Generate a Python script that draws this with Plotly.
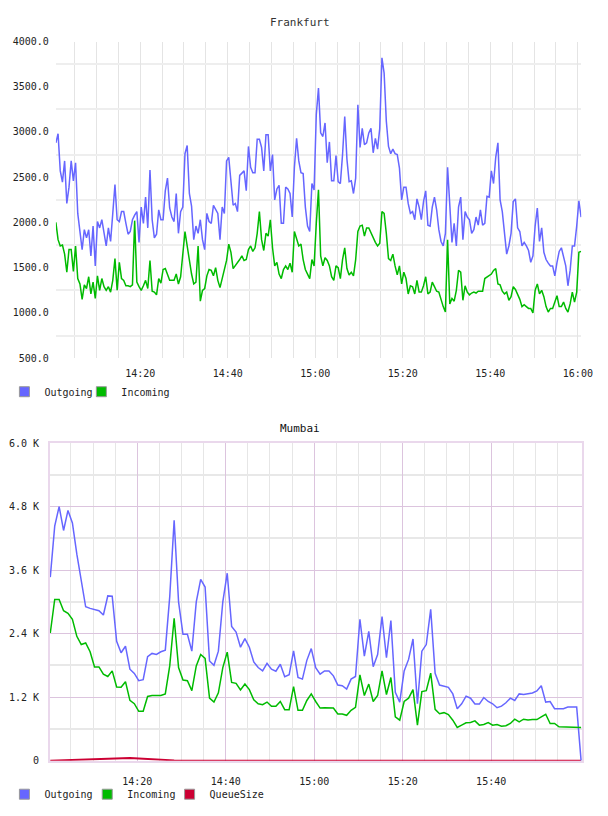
import pandas as pd
import plotly.graph_objects as go

# ---------------- data ----------------
FRA_START = "2024-01-01 14:00:44"   # first Frankfurt sample, 30 s interval
MUM_START = "2024-01-01 14:00:20"   # first Mumbai sample, 1 min interval

fra_outgoing = [
    2880, 2980, 2570, 2445, 2680, 2210, 2390, 2680, 2460, 2660, 2100,
    1920, 1700, 1920, 1830, 1920, 1630, 1960, 1520, 2010, 1940,
    2030, 1880, 1740, 1940, 1790, 2100, 2420, 2030, 2010, 2120,
    2120, 1990, 1870, 1900, 2030, 2080, 2120, 1780, 2170, 1990,
    2280, 1940, 2580, 2030, 1830, 1870, 2140, 2030, 2030, 2350,
    2490, 2160, 2060, 2010, 2320, 1880, 2120, 2170, 2760, 2850,
    2320, 2180, 1810, 1960, 1880, 2030, 1810, 1700, 2100, 2010,
    1990, 2190, 2140, 2100, 1810, 2170, 2100, 2680, 2720, 2420,
    2190, 2210, 2120, 2520, 2550, 2570, 2350, 2840, 2610, 2550,
    2550, 2920, 2920, 2830, 2570, 2970, 2970, 2570, 2750, 2250,
    2370, 2410, 1990, 1990, 2390, 2370, 2320, 2060, 2610, 2930,
    2680, 2550, 2540, 2170, 1960, 1900, 2430, 2360, 3190, 3485,
    2990, 2950, 3100, 2660, 2890, 2460, 2460, 2740, 2450, 2430,
    2750, 3170, 2700, 2450, 2460, 2320, 2490, 3300, 2830, 3040,
    2860, 2880, 2990, 3040, 2770, 2930, 2810, 3040, 3820, 3650,
    3120, 2840, 2760, 2810, 2760, 2750, 2600, 2250, 2390, 2390,
    2210, 2100, 2120, 2030, 2260, 2170, 2030, 2230, 2350, 1970,
    1960, 2170, 2280, 2140, 1920, 1790, 1740, 1880, 2610, 2170,
    1780, 1990, 1740, 2170, 2280, 1810, 2120, 2060, 2030, 1880,
    1920, 2060, 1970, 2140, 1970, 1990, 2290, 2280, 2570, 2430,
    2720, 2880, 2250, 2120, 1880, 1650, 1740, 1880, 2230, 2260,
    1940, 1900, 1740, 1780, 1740, 1690, 1560, 1630, 1960, 2160,
    1790, 1940, 1670, 1590, 1550, 1520, 1520, 1410, 1560, 1680,
    1720, 1630, 1520, 1300, 1470, 1740, 1740, 1960, 2240, 2060,
]

fra_incoming = [
    2000, 1810, 1740, 1750, 1650, 1450, 1700, 1700, 1460, 1740, 1380,
    1320, 1150, 1310, 1270, 1400, 1210, 1340, 1160, 1410, 1250,
    1380, 1290, 1250, 1290, 1230, 1360, 1600, 1250, 1560, 1380,
    1360, 1300, 1300, 1290, 1310, 2020, 1340, 1290, 1250, 1300,
    1360, 1270, 1580, 1240, 1230, 1200, 1380, 1330, 1480, 1490,
    1430, 1360, 1360, 1360, 1430, 1320, 1400, 1670, 1900, 1740,
    1560, 1430, 1320, 1340, 1740, 1130, 1250, 1270, 1410, 1480,
    1470, 1410, 1500, 1360, 1280, 1380, 1470, 1580, 1760, 1670,
    1490, 1520, 1560, 1590, 1630, 1580, 1590, 1700, 1740, 1680,
    1720, 1880, 2120, 1810, 1690, 1880, 1850, 2030, 1720, 1520,
    1560, 1430, 1380, 1480, 1520, 1480, 1550, 1450, 1900, 1830,
    1740, 1760, 1590, 1480, 1430, 1380, 1590, 1520, 1990, 2360,
    1630, 1520, 1610, 1580, 1520, 1400, 1360, 1520, 1500, 1380,
    1590, 1720, 1490, 1420, 1450, 1410, 1590, 1900, 1960, 1970,
    1850, 1940, 1940, 1880, 1830, 1780, 1740, 1770, 2120, 2100,
    1880, 1600, 1580, 1650, 1520, 1420, 1520, 1320, 1450, 1380,
    1210, 1300, 1290, 1210, 1360, 1230, 1230, 1300, 1400, 1210,
    1230, 1340, 1290, 1240, 1230, 1140, 1070, 1010, 1810, 1100,
    1160, 1130, 1250, 1470, 1450, 1140, 1300, 1230, 1200, 1220,
    1230, 1220, 1240, 1240, 1240, 1380, 1400, 1410, 1430, 1470,
    1490, 1320, 1310, 1240, 1210, 1230, 1140, 1180, 1290, 1260,
    1210, 1150, 1070, 1090, 1070, 1050, 1050, 1000, 1250, 1320,
    1210, 1250, 1180, 1070, 1010, 1050, 1050, 1130, 1190, 1070,
    1070, 1120, 1050, 1010, 1100, 1230, 1120, 1230, 1670, 1680,
]

mum_outgoing = [
    3466, 4429, 4800, 4348, 4727, 4491, 3900, 3373, 2907, 2876, 2858,
    2833, 2752, 3112, 3106, 2255, 2038, 2162, 1728, 1647, 1510,
    1529, 1964, 2026, 2007, 2057, 2088, 3094, 4541, 3000, 2386,
    2386, 2069, 3000, 3423, 3280, 1883, 1802, 2069, 3000, 3541,
    2535, 2429, 2144, 2305, 2144, 1864, 1759, 1696, 1839, 1728,
    1690, 1821, 1585, 1622, 2075, 1572, 1541, 1895, 2118, 1758,
    1634, 1696, 1696, 1603, 1429, 1416, 1354, 1541, 1590, 2671,
    1975, 2441, 1776, 2006, 2720, 1944, 2646, 1292, 1106, 1696,
    1913, 2298, 1075, 2068, 2193, 2857, 1652, 1429, 1404, 1385,
    1261, 982, 1075, 1218, 1180, 1069, 1069, 1193, 1118, 1075,
    1000, 1031, 1093, 1180, 1137, 1261, 1249, 1261, 1280, 1317,
    1416, 1106, 1118, 982, 982, 982, 1013, 1013, 1013, 0,
]

mum_incoming = [
    2411, 3044, 3044, 2833, 2783, 2671, 2349, 2193, 2224, 2057, 1771,
    1771, 1634, 1591, 1696, 1392, 1386, 1492, 1138, 1076, 933,
    933, 1212, 1231, 1231, 1231, 1262, 1790, 2690, 1758, 1523,
    1510, 1324, 1790, 2007, 1932, 1181, 1107, 1281, 1758, 2050,
    1479, 1460, 1336, 1448, 1342, 1150, 1076, 1057, 1107, 1026,
    1026, 1119, 964, 964, 1398, 951, 951, 1137, 1261, 1118,
    994, 1000, 994, 994, 882, 882, 857, 951, 1006, 1621,
    1230, 1447, 1118, 1230, 1696, 1249, 1571, 826, 764, 1118,
    1180, 1342, 671, 1305, 1323, 1652, 969, 888, 907, 870,
    764, 628, 671, 715, 721, 752, 671, 683, 721, 671,
    683, 652, 659, 702, 783, 733, 783, 770, 777, 777,
    826, 876, 702, 702, 640, 640, 634, 640, 634, 628,
]

mum_queuesize = [
    0, 3, 8, 12, 18, 20, 22, 24, 25, 27, 30,
    35, 40, 45, 48, 50, 50, 50, 50, 48, 45,
    40, 35, 30, 25, 20, 15, 10, 5, 2, 0,
    0, 0, 0, 0, 0, 0, 0, 0, 0, 0,
    0, 0, 0, 0, 0, 0, 0, 0, 0, 0,
    0, 0, 0, 0, 0, 0, 0, 0, 0, 0,
    0, 0, 0, 0, 0, 0, 0, 0, 0, 0,
    0, 0, 0, 0, 0, 0, 0, 0, 0, 0,
    0, 0, 0, 0, 0, 0, 0, 0, 0, 0,
    0, 0, 0, 0, 0, 0, 0, 0, 0, 0,
    0, 0, 0, 0, 0, 0, 0, 0, 0, 0,
    0, 0, 0, 0, 0, 0, 0, 0, 0, 0,
]

fra_x_labels = ["14:20", "14:40", "15:00", "15:20", "15:40", "16:00"]
mum_x_labels = ["14:20", "14:40", "15:00", "15:20", "15:40"]
fra_y_ticks = [500, 1000, 1500, 2000, 2500, 3000, 3500, 4000]
mum_y_ticks = [0, 1200, 2400, 3600, 4800, 6000]
mum_y_labels = ["0", "1.2 K", "2.4 K", "3.6 K", "4.8 K", "6.0 K"]

# ---------------- build ----------------
DAY = "2024-01-01 "
fra_t = pd.date_range(FRA_START, periods=len(fra_outgoing), freq="30s")
mum_t = pd.date_range(MUM_START, periods=len(mum_outgoing), freq="60s")

C_OUT = "#6666ff"
C_IN = "#00bb00"
C_Q = "#cc0033"

W, H = 608, 816
def px_x(a, b):
    return [a / W, b / W]
def px_y(top, bottom):
    return [1 - bottom / H, 1 - top / H]

fig = go.Figure()

fig.add_trace(go.Scatter(x=fra_t, y=fra_outgoing, mode="lines", line=dict(color=C_OUT, width=1.5),
                         xaxis="x", yaxis="y", showlegend=False))
fig.add_trace(go.Scatter(x=fra_t, y=fra_incoming, mode="lines", line=dict(color=C_IN, width=1.5),
                         xaxis="x", yaxis="y", showlegend=False))
fig.add_trace(go.Scatter(x=mum_t, y=mum_queuesize, mode="lines", line=dict(color=C_Q, width=2),
                         xaxis="x2", yaxis="y2", showlegend=False))
fig.add_trace(go.Scatter(x=mum_t, y=mum_outgoing, mode="lines", line=dict(color=C_OUT, width=1.5),
                         xaxis="x2", yaxis="y2", showlegend=False))
fig.add_trace(go.Scatter(x=mum_t, y=mum_incoming, mode="lines", line=dict(color=C_IN, width=1.5),
                         xaxis="x2", yaxis="y2", showlegend=False))

mono = "DejaVu Sans Mono"
legend_font = dict(family=mono, size=10, color="#222222")

# legend entries (square swatches), one small legend per entry so each sits where the original does
legend_layout = {}
def legend_entry(name, color, legend_id, xa, ya, swatch_center_px, row_center_px):
    fig.add_trace(go.Scatter(x=[None], y=[None], mode="markers", name=name,
                             marker=dict(symbol="square", size=10, color=color,
                                         line=dict(color="#999999", width=1)),
                             xaxis=xa, yaxis=ya, legend=legend_id, showlegend=True))
    legend_layout[legend_id] = dict(
        orientation="h", x=(swatch_center_px - 4.5 - 20) / W, y=1 - row_center_px / H,
        xanchor="left", yanchor="middle", font=legend_font, bgcolor="rgba(0,0,0,0)",
        itemclick=False, itemdoubleclick=False)

legend_entry("Outgoing", C_OUT, "legend", "x", "y", 29, 392)
legend_entry("Incoming", C_IN, "legend2", "x", "y", 107.5, 392)
legend_entry("Outgoing", C_OUT, "legend3", "x2", "y2", 29, 800)
legend_entry("Incoming", C_IN, "legend4", "x2", "y2", 113.5, 800)
legend_entry("QueueSize", C_Q, "legend5", "x2", "y2", 197.5, 800)

tickfont = dict(family=mono, size=10, color="#222222")

fra_x_vals = [pd.Timestamp(DAY + s) for s in fra_x_labels]
mum_x_vals = [pd.Timestamp(DAY + s) for s in mum_x_labels]
fra_minor_x = pd.date_range(DAY + "14:05", DAY + "16:00", freq="5min")
mum_minor_x = [t for t in pd.date_range(DAY + "14:05", DAY + "15:55", freq="5min") if t.minute % 20 != 0]
fra_minor_y = [v + 250 for v in fra_y_ticks[:-1]]
mum_minor_y = [v + 600 for v in mum_y_ticks[:-1]]

fig.update_layout(
    width=W, height=H, autosize=False,
    margin=dict(l=0, r=0, t=0, b=0),
    paper_bgcolor="white", plot_bgcolor="white",
    font=dict(family=mono, size=10, color="#222222"),
    xaxis=dict(
        domain=px_x(57, 593), anchor="y", type="date",
        range=[DAY + "14:00:44", DAY + "16:00:47"],
        tickmode="array", tickvals=fra_x_vals, ticktext=fra_x_labels,
        showgrid=True, gridcolor="#e4e4e4", gridwidth=1,
        minor=dict(tickmode="array", tickvals=list(fra_minor_x), showgrid=True,
                   gridcolor="#e4e4e4", gridwidth=1, ticks=""),
        showline=False, zeroline=False, ticks="", ticklabelstandoff=8, tickfont=tickfont,
    ),
    yaxis=dict(
        domain=px_y(37, 358), anchor="x",
        range=[500, 4000], tickmode="array", tickvals=fra_y_ticks, tickformat=".1f",
        showgrid=False,
        minor=dict(tickmode="array", tickvals=fra_minor_y, showgrid=True,
                   gridcolor="#eeeeee", gridwidth=2, ticks=""),
        showline=False, zeroline=False, ticks="", ticklabelstandoff=6, tickfont=tickfont,
    ),
    xaxis2=dict(
        domain=px_x(51, 594), anchor="y2", type="date",
        range=[DAY + "14:00:16", DAY + "16:00:36"],
        tickmode="array", tickvals=mum_x_vals, ticktext=mum_x_labels,
        showgrid=True, gridcolor="#dcc4de", gridwidth=1,
        minor=dict(tickmode="array", tickvals=mum_minor_x, showgrid=True,
                   gridcolor="#e6e6e6", gridwidth=1, ticks=""),
        showline=True, mirror=True, linecolor="#ead8ec", linewidth=2,
        zeroline=False, ticks="", ticklabelstandoff=10, tickfont=tickfont,
    ),
    yaxis2=dict(
        domain=px_y(444, 766), anchor="x2",
        range=[0, 6000], tickmode="array", tickvals=mum_y_ticks, ticktext=mum_y_labels,
        showgrid=True, gridcolor="#dcc4de", gridwidth=1,
        minor=dict(tickmode="array", tickvals=mum_minor_y, showgrid=True,
                   gridcolor="#e8e8e8", gridwidth=2, ticks=""),
        showline=True, mirror=True, linecolor="#ead8ec", linewidth=2,
        zeroline=False, ticks="", ticklabelstandoff=7, tickfont=tickfont,
    ),
    annotations=[
        dict(text="Frankfurt", xref="paper", yref="paper", x=306 / W, y=1 - 18 / H,
             xanchor="center", yanchor="middle", showarrow=False,
             font=dict(family=mono, size=11, color="#333333")),
        dict(text="Mumbai", xref="paper", yref="paper", x=306 / W, y=1 - 429 / H,
             xanchor="center", yanchor="middle", showarrow=False,
             font=dict(family=mono, size=11, color="#111111")),
    ],
    **legend_layout,
)

fig.write_html("out.html")
